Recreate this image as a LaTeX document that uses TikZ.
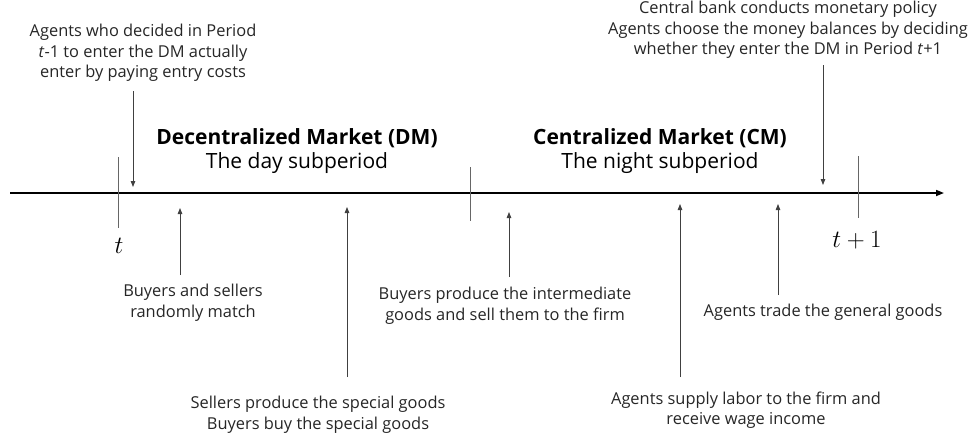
\documentclass[tikz,border=0pt]{standalone}
\usepackage{fontspec}
\setmainfont{Open Sans}
\usetikzlibrary{arrows.meta}
\begin{document}
\begin{tikzpicture}[x=1pt,y=-1pt,
  lbl/.style={align=center,font=\fontsize{16.4}{20.6}\selectfont,text=black!85,inner sep=0pt},
  head/.style={align=center,inner sep=0pt,font=\fontsize{21}{24}\selectfont},
  evt/.style={draw=black!75,line width=0.8pt,-{Triangle[length=6pt,width=4.5pt]}},
  tick/.style={draw=black!60,line width=0.9pt}]
\useasboundingbox (0,0) rectangle (976,440);
% axis
\coordinate (axL) at (10,193);
\coordinate (axR) at (944,193);
\draw[line width=1.6pt,-{Triangle[length=8pt,width=6pt]}] (axL) -- (axR);
% ticks
\coordinate (t0a) at (118,157); \coordinate (t0b) at (118,228);
\draw[tick] (t0a) -- (t0b);
\coordinate (t1a) at (470,167); \coordinate (t1b) at (470,221);
\draw[tick] (t1a) -- (t1b);
\coordinate (t2a) at (858,156); \coordinate (t2b) at (858,218);
\draw[tick] (t2a) -- (t2b);
\node (tl) at (119,246) {\fontsize{24}{28}\selectfont$t$};
\node (tpl) at (857,240) {\fontsize{24}{28}\selectfont$t+1$};
% headings
\node[head] (dm) at (297,138) {\bfseries Decentralized Market (DM)};
\node[head] (dmd) at (297,163) {The day subperiod};
\node[head] (cm) at (660,138) {\bfseries Centralized Market (CM)};
\node[head] (cmd) at (660,163) {The night subperiod};
% top-left
\node[lbl] (a1) at (143,53) {Agents who decided in Period\\\textit{t}-1 to enter the DM actually\\enter by paying entry costs};
\coordinate (a1s) at (133,91); \coordinate (a1e) at (133,187);
\draw[evt] (a1s) -- (a1e);
% top-right
\node[lbl] (a7) at (788,30) {Central bank conducts monetary policy\\Agents choose the money balances by deciding\\whether they enter the DM in Period \textit{t}+1};
\coordinate (a7s) at (823,65); \coordinate (a7e) at (823,185);
\draw[evt] (a7s) -- (a7e);
% bottom
\node[lbl] (a2) at (193,303) {Buyers and sellers\\randomly match};
\coordinate (a2s) at (180,275); \coordinate (a2e) at (180,208);
\draw[evt] (a2s) -- (a2e);
\node[lbl] (a3) at (318,415) {Sellers produce the special goods\\Buyers buy the special goods};
\coordinate (a3s) at (347,377); \coordinate (a3e) at (347,207);
\draw[evt] (a3s) -- (a3e);
\node[lbl] (a4) at (505,306) {Buyers produce the intermediate\\goods and sell them to the firm};
\coordinate (a4s) at (509,277); \coordinate (a4e) at (509,212);
\draw[evt] (a4s) -- (a4e);
\node[lbl] (a5) at (746,410) {Agents supply labor to the firm and\\receive wage income};
\coordinate (a5s) at (680,377); \coordinate (a5e) at (680,204);
\draw[evt] (a5s) -- (a5e);
\node[lbl] (a6) at (823,312) {Agents trade the general goods};
\coordinate (a6s) at (778,295); \coordinate (a6e) at (778,204);
\draw[evt] (a6s) -- (a6e);
\end{tikzpicture}
\end{document}
